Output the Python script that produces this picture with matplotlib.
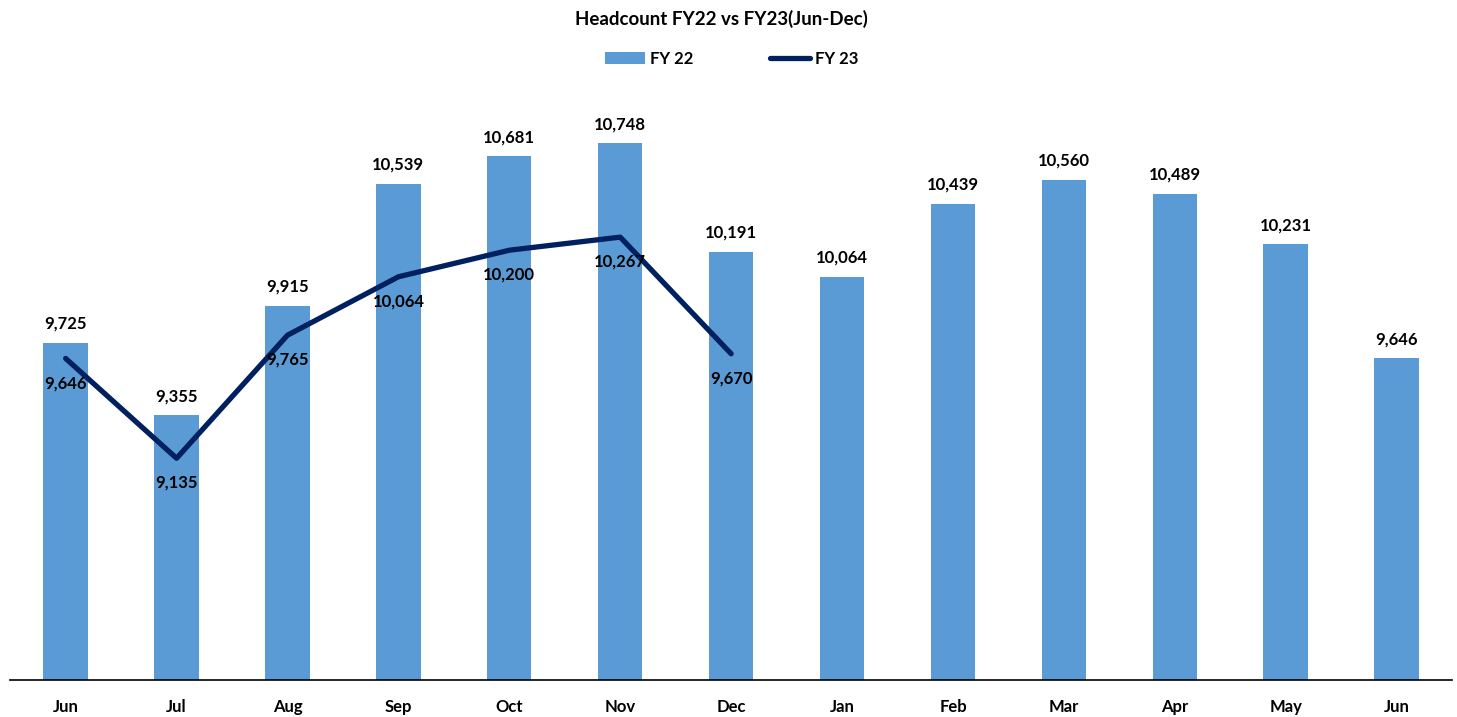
import matplotlib
matplotlib.use("Agg")
import matplotlib.pyplot as plt
import numpy as np

months = ["Jun", "Jul", "Aug", "Sep", "Oct", "Nov", "Dec",
          "Jan", "Feb", "Mar", "Apr", "May", "Jun"]
fy22 = [9725, 9355, 9915, 10539, 10681, 10748, 10191,
        10064, 10439, 10560, 10489, 10231, 9646]
fy23 = [9646, 9135, 9765, 10064, 10200, 10267, 9670]

BAR = "#5B9BD5"
LINE = "#002060"
plt.rcParams["font.family"] = ["Lato", "DejaVu Sans"]
plt.rcParams["font.weight"] = "bold"

fig = plt.figure(figsize=(14.57, 7.17), dpi=100)
ax = fig.add_axes([0.007, 0.0516, 0.9896, 0.8174])

x = np.arange(len(months))
bars = ax.bar(x, fy22, width=0.4, color=BAR, label="FY 22", zorder=2)
xl = np.arange(len(fy23))
line, = ax.plot(xl, fy23, color=LINE, lw=3.8, solid_capstyle="round",
                label="FY 23", zorder=3)

for xi, v in zip(x, fy22):
    ax.annotate(f"{v:,}", (xi, v), xytext=(0, 8), textcoords="offset points",
                ha="center", va="bottom", fontsize=12, fontweight="bold")
for xi, v in zip(xl, fy23):
    ax.annotate(f"{v:,}", (xi, v), xytext=(0, -12), textcoords="offset points",
                ha="center", va="top", fontsize=12, fontweight="bold")

ax.set_xlim(-0.5, len(months) - 0.5)
ax.set_ylim(8000, 11000)
ax.set_xticks(x)
ax.set_xticklabels(months, fontsize=12, fontweight="bold")
ax.tick_params(axis="x", length=0, pad=14)
ax.set_yticks([])
for s in ["top", "right", "left"]:
    ax.spines[s].set_visible(False)
ax.spines["bottom"].set_linewidth(1.2)

fig.text(0.495, 0.974, "Headcount FY22 vs FY23(Jun-Dec)", ha="center", va="center",
         fontsize=13.5, fontweight="bold")
fig.legend(handles=[bars, line], loc="center", bbox_to_anchor=(0.502, 0.918), ncol=2,
           frameon=False, columnspacing=4.6, handlelength=2.4,
           handletextpad=0.3, prop={"weight": "bold", "size": 12})

fig.savefig("out.png", dpi=100)
